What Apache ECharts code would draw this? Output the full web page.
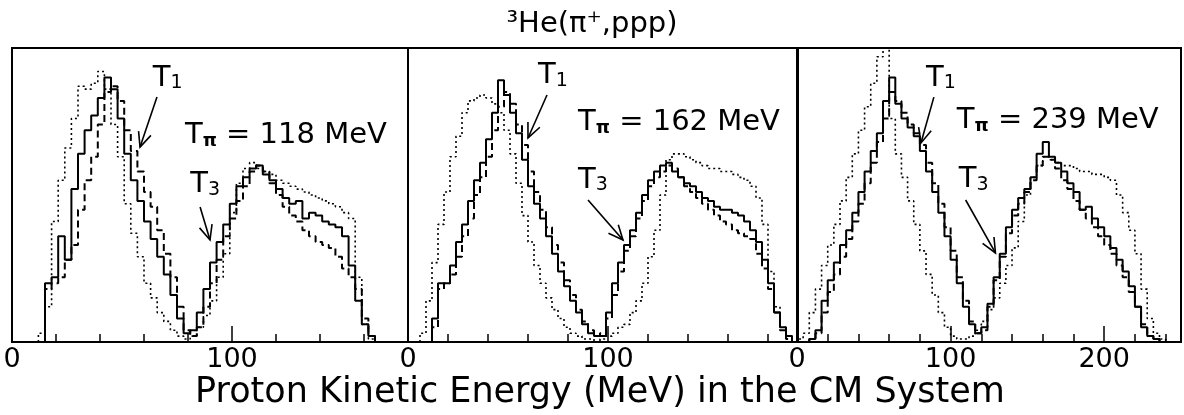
<!DOCTYPE html>
<html>
<head>
<meta charset="utf-8">
<script src="https://cdn.jsdelivr.net/npm/echarts@6/dist/echarts.min.js"></script>
<style>
  html, body { margin: 0; padding: 0; background: #fff; }
  #chart { width: 1184px; height: 415px; }
</style>
</head>
<body>
<div id="chart"></div>
<script>
// ---- data --------------------------------------------------------------
// x range of each panel (MeV) and the pion beam energy it belongs to
const panelMax = [180, 195, 250];
const beamEnergies = ['118', '162', '239'];
const tickLabels = [0, 100, 200];

// proton spectra, histogrammed: first bin edge and bin width in MeV,
// then the bin contents (arbitrary units, frame top = 100)
const p1Start = 12, p1Bin = 3;
const p1Solid  = [0,20,22,36,28,52,64,72,77,83, 90,86,76,64,55,48,41,35,29,23,
                  16,8,3,4,10,18,27,34,40,47, 53,56,59,60,57,55,52,49,47,48,
                  42,44,43,41,40,39,36,26,14,6, 2];
const p1Dashed = [0,18,20,22,28,33,45,55,63,74, 85,87,82,72,65,58,51,46,38,30,
                  22,12,4,2,5,12,20,28,36,42, 48,53,58,60,58,54,50,46,43,41,
                  38,36,34,33,32,29,25,22,18,8, 2];
const p1Dotted = [3,12,41,55,66,76,87,86,88,92, 86,74,63,47,37,29,20,15,10,7,
                  4,2,1,2,5,9,14,22,30,44, 54,59,61,59,58,57,55,54,53,52,
                  51,50,49,48,47,46,44,42,22,6, 1];

const p2Start = 6, p2Bin = 3;
const p2Solid  = [0,0,8,20,20,26,34,40,48,55, 61,69,78,89,84,78,71,62,53,47,
                  42,36,30,24,19,14,10,6,3,2, 2,10,20,27,33,38,44,50,55,58,
                  60,61,58,56,54,53,51,49,48,46, 45,45,44,43,41,38,34,28,20,10,
                  5,2];
const p2Dashed = [0,0,5,18,20,23,29,36,42,50, 56,63,72,80,85,81,74,67,58,51,
                  45,39,33,27,21,16,11,7,4,2, 3,8,16,24,31,36,42,48,53,56,
                  58,60,59,56,53,51,49,47,45,43, 41,40,38,37,36,35,30,25,18,10,
                  4,1];
const p2Dotted = [3,14,27,40,51,63,70,78,82,83, 84,83,81,78,72,64,54,43,34,26,
                  20,15,11,8,5,3,2,1,1,0, 1,2,3,5,6,10,14,20,29,38,
                  50,62,64,64,63,62,61,60,59,59, 58,58,57,56,55,53,49,40,24,12,
                  5,2];

const p3Start = 0, p3Bin = 4;
const p3Solid  = [0,0,1,4,14,21,27,33,38,44, 51,58,65,71,82,90,81,76,73,70,
                  65,58,51,44,36,28,20,12,6,3, 5,13,22,30,39,45,49,52,56,64,
                  68,63,61,58,54,51,45,46,42,39, 36,32,28,24,19,12,5,2,1,0];
const p3Dashed = [0,0,1,3,10,17,23,29,35,41, 47,54,61,68,76,85,82,78,74,71,
                  67,61,54,47,39,31,22,14,7,3, 4,12,21,29,37,43,47,51,55,60,
                  63,62,59,55,52,48,45,42,39,36, 33,30,26,22,17,12,6,2,1,0];
const p3Dotted = [1,3,10,18,26,33,40,48,56,64, 72,80,88,97,108,76,64,56,48,40,
                  31,23,16,10,5,2,1,1,2,4, 7,11,15,20,26,32,41,50,56,60,
                  63,62,61,60,60,59,58,58,57,57, 56,55,50,44,38,30,18,8,3,1];

// ---- layout ------------------------------------------------------------
const FONT = 'DejaVu Sans';
const gridLeft  = [12, 408, 797];
const gridWidth = [396, 390, 387];
const gridTop = 48, gridHeight = 294;

// annotation anchors in each panel's own (MeV, height) coordinates
const notes = [
  { beam: [78.6, 70.4], t1: [64, 89.8], t1Arrow: [[65.9, 83.3], [58.2, 66.3]],
    t3: [81, 53.7], t3Arrow: [[85.5, 45.9], [90, 34.7]] },
  { beam: [85, 74.8], t1: [65, 90.5], t1Arrow: [[69.5, 84], [60, 69.4]],
    t3: [85, 55.1], t3Arrow: [[90, 48.3], [107.5, 34.7]] },
  { beam: [104, 75.5], t1: [84, 89.8], t1Arrow: [[89.1, 83.3], [80.7, 67.7]],
    t3: [105.3, 55.4], t3Arrow: [[109.8, 48.3], [129.2, 30.3]] }
];

// ---- helpers -----------------------------------------------------------
function histPoints(start, bin, values) {
  const pts = [[start, 0]];
  values.forEach((v, i) => pts.push([start + i * bin, v]));
  pts.push([start + values.length * bin, 0]);
  return pts;
}

const panels = [
  { start: p1Start, bin: p1Bin, solid: p1Solid, dashed: p1Dashed, dotted: p1Dotted },
  { start: p2Start, bin: p2Bin, solid: p2Solid, dashed: p2Dashed, dotted: p2Dotted },
  { start: p3Start, bin: p3Bin, solid: p3Solid, dashed: p3Dashed, dotted: p3Dotted }
];

const lineStyles = {
  solid:  { color: '#000', width: 2, type: 'solid' },
  dashed: { color: '#000', width: 2, type: [7, 4] },
  dotted: { color: '#000', width: 1.6, type: [2, 3] }
};

const grids = [], xAxes = [], yAxes = [], series = [];
panels.forEach((p, g) => {
  grids.push({
    left: gridLeft[g], top: gridTop, width: gridWidth[g], height: gridHeight,
    show: true, borderColor: '#000', borderWidth: 2, backgroundColor: 'transparent'
  });
  // minor ticks every 20 MeV
  xAxes.push({
    gridIndex: g, type: 'value', min: 0, max: panelMax[g], interval: 20,
    position: 'bottom',
    axisLine: { show: true, onZero: false, lineStyle: { color: '#000', width: 2 } },
    axisTick: { show: true, inside: true, length: 8, lineStyle: { color: '#000', width: 1.5 } },
    axisLabel: { show: false }, splitLine: { show: false }
  });
  // major ticks and labels every 100 MeV
  xAxes.push({
    gridIndex: g, type: 'value', min: 0, max: panelMax[g], interval: 100,
    position: 'bottom',
    axisLine: { show: false },
    axisTick: { show: true, inside: true, length: 16, lineStyle: { color: '#000', width: 1.5 } },
    axisLabel: {
      show: true, margin: 4, color: '#000', fontSize: 27, fontFamily: FONT,
      formatter: v => (tickLabels.indexOf(v) >= 0 ? String(v) : '')
    },
    splitLine: { show: false }
  });
  yAxes.push({ gridIndex: g, type: 'value', min: 0, max: 100, show: false });

  ['dotted', 'dashed', 'solid'].forEach(kind => {
    series.push({
      type: 'line', xAxisIndex: 2 * g, yAxisIndex: g,
      step: 'end', symbol: 'none', clip: true,
      lineStyle: lineStyles[kind],
      data: histPoints(p.start, p.bin, p[kind])
    });
  });
});

const chart = echarts.init(document.getElementById('chart'), null, { renderer: 'canvas' });
chart.setOption({
  animation: false,
  backgroundColor: '#fff',
  title: {
    text: '³He(π⁺,ppp)', left: 'center', top: 5,
    textStyle: { fontSize: 29, fontWeight: 'normal', fontFamily: FONT, color: '#000' }
  },
  grid: grids, xAxis: xAxes, yAxis: yAxes, series: series
});

// ---- annotations -------------------------------------------------------
const richStyles = {
  big:  { fontSize: 29, fontFamily: FONT, fill: '#000', lineHeight: 30, verticalAlign: 'middle' },
  sub:  { fontSize: 19, fontFamily: FONT, fill: '#000', lineHeight: 10, verticalAlign: 'bottom' },
  pi:   { fontSize: 18, fontFamily: FONT, fontWeight: 'bold', fill: '#000', lineHeight: 10, verticalAlign: 'bottom' }
};

function px(g, pt) {
  return chart.convertToPixel({ xAxisIndex: 2 * g, yAxisIndex: g }, pt);
}
function arrow(g, seg) {
  const a = px(g, seg[0]), b = px(g, seg[1]);
  const ang = Math.atan2(b[1] - a[1], b[0] - a[0]);
  const len = 16, spread = 0.42;
  const h1 = [b[0] - len * Math.cos(ang - spread), b[1] - len * Math.sin(ang - spread)];
  const h2 = [b[0] - len * Math.cos(ang + spread), b[1] - len * Math.sin(ang + spread)];
  const st = { stroke: '#000', lineWidth: 1.6, fill: null };
  return [
    { type: 'polyline', shape: { points: [a, b] }, style: st, silent: true },
    { type: 'polyline', shape: { points: [h1, b, h2] }, style: st, silent: true }
  ];
}
function label(g, pt, text) {
  const p = px(g, pt);
  return {
    type: 'text', x: p[0], y: p[1], silent: true,
    style: { text: text, rich: richStyles, textAlign: 'left', textVerticalAlign: 'middle' }
  };
}

const graphics = [];
notes.forEach((n, g) => {
  graphics.push(label(g, n.beam, '{big|T}{pi|π}{big| = ' + beamEnergies[g] + ' MeV}'));
  graphics.push(label(g, n.t1, '{big|T}{sub|1}'));
  graphics.push(label(g, n.t3, '{big|T}{sub|3}'));
  graphics.push(...arrow(g, n.t1Arrow));
  graphics.push(...arrow(g, n.t3Arrow));
});
graphics.push({
  type: 'text', x: 600, y: 393, silent: true,
  style: {
    text: 'Proton Kinetic Energy (MeV) in the CM System',
    fontSize: 35, fontFamily: FONT, fill: '#000',
    textAlign: 'center', textVerticalAlign: 'middle'
  }
});
chart.setOption({ graphic: graphics });
</script>
</body>
</html>
